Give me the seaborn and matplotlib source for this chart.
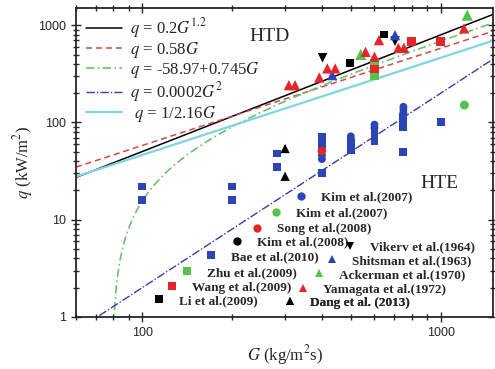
import numpy as np
import pandas as pd
import matplotlib
matplotlib.use("Agg")
import matplotlib.pyplot as plt
import seaborn as sns
from matplotlib.lines import Line2D
from matplotlib.ticker import LogLocator, NullFormatter, FuncFormatter

# correlations shown in the chart: q = a*G^b  (+ c)
corr_labels = [r"$q$ = 0.2$G^{1.2}$", r"$q$ = 0.58$G$", r"$q$ = -58.97+0.745$G$",
               r"$q$ = 0.0002$G^{2}$", r" $q$ = 1/2.16$G$"]
corr_a = [0.2, 0.58, 0.745, 0.0002, 1 / 2.16]
corr_b = [1.2, 1.0, 1.0, 2.0, 1.0]
corr_c = [0.0, 0.0, -58.97, 0.0, 0.0]

kim07_blue_G = [400, 400, 400, 500, 500, 600, 600, 750, 750, 750]
kim07_blue_q = [55, 46, 42, 72, 67, 95, 88, 145, 135, 125]
kim07_green_G = [1200]
kim07_green_q = [151]
song_G = [400]
song_q = [51]
kim08_G = [400]
kim08_q = [62]
bae_G = [100, 100, 200, 200, 283, 283, 400, 400, 400, 400, 500, 500, 500,
         600, 600, 600, 600, 750, 750, 750, 750, 750, 1000]
bae_q = [22, 16, 22, 16, 48, 35, 71, 66, 60, 30, 62, 57, 52,
         82, 76, 70, 64, 115, 105, 97, 90, 50, 101]
zhu_G = [600, 600]
zhu_q = [411, 302]
wang_G = [600, 800, 1000]
wang_q = [354, 676, 676]
li_G = [497, 646]
li_q = [411, 804]
vikerv_G = [402, 703]
vikerv_q = [462, 687]
shitsman_G = [433, 703]
shitsman_q = [307, 791]
ackerman_G = [540, 1227]
ackerman_q = [501, 1270]
yamagata_G = [310, 325, 392, 417, 443, 560, 600, 621, 721, 753, 1197]
yamagata_q = [242, 242, 290, 360, 360, 533, 475, 703, 586, 586, 927]
dang_G = [301, 301]
dang_q = [54, 28]

blue = "#2b45b5"
green = "#55c24f"
red = "#e3262a"

sns.set_style("ticks")
plt.rcParams["font.family"] = ["Liberation Serif", "DejaVu Serif"]
plt.rcParams["mathtext.fontset"] = "stix"

fig = plt.figure(figsize=(4.95, 3.69), dpi=100)
ax = fig.add_axes([0.1535, 0.141, 0.843, 0.837])

line_colors = ["black", "#d24a4a", "#6cc26c", "#3a3aa8", "#7fd6e2"]
line_styles = ["-", (0, (4, 2.5)), (0, (5, 2, 1, 2)), (0, (6, 1.5, 1, 1.5)), "-"]
line_widths = [1.1, 1.1, 1.2, 1.0, 1.6]

G_line = np.geomspace(60, 1500, 800)
for i in range(len(corr_labels)):
    q_line = corr_a[i] * G_line ** corr_b[i] + corr_c[i]
    keep = q_line > 0.5
    sns.lineplot(x=G_line[keep], y=q_line[keep], ax=ax, color=line_colors[i],
                 linestyle=line_styles[i], linewidth=line_widths[i],
                 label=corr_labels[i], sort=False)

series = [
    ("Kim et al.(2008)", kim08_G, kim08_q, "black", "o", 32),
    ("Kim et al.(2007)", kim07_blue_G, kim07_blue_q, blue, "o", 32),
    ("Kim et al.(2007)", kim07_green_G, kim07_green_q, green, "o", 42),
    ("Bae et al.(2010)", bae_G, bae_q, blue, "s", 32),
    ("Song et al.(2008)", song_G, song_q, red, "o", 38),
    ("Zhu et al.(2009)", zhu_G, zhu_q, green, "s", 38),
    ("Wang et al.(2009)", wang_G, wang_q, red, "s", 38),
    ("Li et al.(2009)", li_G, li_q, "black", "s", 32),
    ("Vikerv et al.(1964)", vikerv_G, vikerv_q, "black", "v", 48),
    ("Shitsman et al.(1963)", shitsman_G, shitsman_q, blue, "^", 55),
    ("Ackerman et al.(1970)", ackerman_G, ackerman_q, green, "^", 65),
    ("Yamagata et al.(1972)", yamagata_G, yamagata_q, red, "^", 55),
    ("Dang et al. (2013)", dang_G, dang_q, "black", "^", 45),
]
for name, g, q, c, m, s in series:
    sns.scatterplot(x=g, y=q, ax=ax, color=c, marker=m, s=s,
                    edgecolor="none", linewidth=0, zorder=3, legend=False)

ax.set_xscale("log")
ax.set_yscale("log")
ax.set_xlim(60, 1500)
ax.set_ylim(1, 1500)

fmt = FuncFormatter(lambda v, p: "%g" % v)
for axis in (ax.xaxis, ax.yaxis):
    axis.set_major_locator(LogLocator(base=10))
    axis.set_major_formatter(fmt)
    axis.set_minor_locator(LogLocator(base=10, subs=np.arange(2, 10)))
    axis.set_minor_formatter(NullFormatter())
ax.tick_params(which="both", direction="inout", top=True, right=True, width=1)
ax.tick_params(which="major", length=7, labelsize=9)
ax.tick_params(which="minor", length=4)
for lab in ax.get_xticklabels() + ax.get_yticklabels():
    lab.set_family("Liberation Sans")
for sp in ax.spines.values():
    sp.set_linewidth(1.3)

ax.set_xlabel(r"$G$ (kg/m$^2$s)", fontsize=12, labelpad=3)
ax.set_ylabel(r"$q$ (kW/m$^2$)", fontsize=12, labelpad=2)

ax.text(266, 773, "HTD", fontsize=14, ha="center", va="center")
ax.text(990, 23.8, "HTE", fontsize=14, ha="center", va="center")

# correlation legend, upper left
leg = ax.legend(loc="upper left", bbox_to_anchor=(-0.005, 1.012), frameon=False,
                fontsize=12, handlelength=2.2, handletextpad=0.45, labelspacing=0.0,
                borderaxespad=0.3)
ax.add_artist(leg)

# data legend: one small legend per source, staggered like the original
entry_px = [
    ("Kim et al.(2007)", blue, "o", 301, 197),
    ("Kim et al.(2007)", green, "o", 276, 213),
    ("Song et al.(2008)", red, "o", 257, 229),
    ("Kim et al.(2008)", "black", "o", 237, 242),
    ("Bae et al.(2010)", blue, "s", 211, 257),
    ("Zhu et al.(2009)", green, "s", 187, 273),
    ("Wang et al.(2009)", red, "s", 172, 288),
    ("Li et al.(2009)", "black", "s", 159, 301),
    ("Vikerv et al.(1964)", "black", "v", 350, 247),
    ("Shitsman et al.(1963)", blue, "^", 332, 261),
    ("Ackerman et al.(1970)", green, "^", 319, 275),
    ("Yamagata et al.(1972)", red, "^", 303, 290),
    ("Dang et al. (2013)", "black", "^", 290, 303),
]
fs = 9.5
half_handle = 0.5 * fs * 100 / 72
for name, c, m, px, py in entry_px:
    h = Line2D([], [], color=c, marker=m, linestyle="none", markersize=6,
               markeredgewidth=0)
    lg = ax.legend([h], [name], loc="center left", frameon=False, fontsize=fs,
                   handlelength=1.0, handletextpad=1.0, borderpad=0, borderaxespad=0,
                   bbox_to_anchor=((px - half_handle - 76) / 417, (317 - py) / 309),
                   prop={"family": "Liberation Serif", "weight": "bold", "size": fs})
    ax.add_artist(lg)

fig.savefig("out.png", dpi=100)
